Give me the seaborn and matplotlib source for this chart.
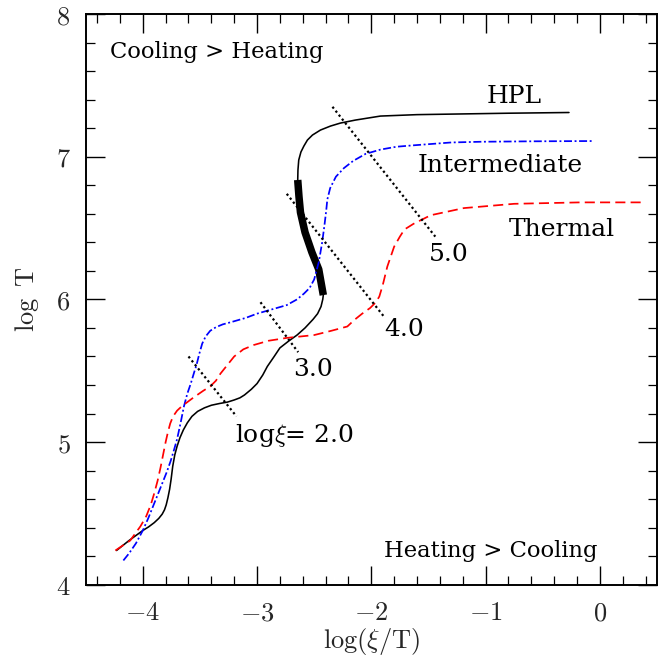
import numpy as np
import pandas as pd
import matplotlib
matplotlib.use("Agg")
import matplotlib.pyplot as plt
from matplotlib.ticker import MultipleLocator, FuncFormatter
import seaborn as sns

# ---------------- data ----------------
hpl_x = [-4.23, -4.12, -4.00, -3.95, -3.90, -3.86, -3.83, -3.81, -3.795, -3.78,
         -3.765, -3.752, -3.738, -3.72, -3.70, -3.675, -3.645, -3.61, -3.57, -3.52,
         -3.46, -3.40, -3.33, -3.26, -3.20, -3.15, -3.11, -3.05, -3.00, -2.95,
         -2.91, -2.85, -2.80, -2.72, -2.65, -2.58, -2.51, -2.47, -2.44, -2.425,
         -2.42,
         -2.44, -2.46, -2.49, -2.52, -2.55, -2.58, -2.60, -2.62, -2.633, -2.644,
         -2.642, -2.635, -2.616, -2.59, -2.559, -2.515, -2.445, -2.357, -2.27, -2.139,
         -1.92, -1.60, -1.20, -0.80, -0.27]
hpl_y = [4.24, 4.31, 4.38, 4.405, 4.435, 4.465, 4.495, 4.525, 4.56, 4.61,
         4.67, 4.74, 4.83, 4.91, 4.97, 5.03, 5.085, 5.135, 5.18, 5.215,
         5.24, 5.258, 5.27, 5.28, 5.295, 5.31, 5.33, 5.37, 5.41, 5.47,
         5.53, 5.60, 5.66, 5.71, 5.75, 5.80, 5.86, 5.90, 5.95, 6.00,
         6.03,
         6.12, 6.21, 6.27, 6.33, 6.40, 6.47, 6.54, 6.61, 6.72, 6.837,
         6.907, 6.977, 7.033, 7.075, 7.117, 7.152, 7.187, 7.215, 7.236, 7.257,
         7.285, 7.295, 7.30, 7.305, 7.31]

unstable_x = [-2.42, -2.44, -2.46, -2.49, -2.52, -2.55, -2.58, -2.60, -2.62, -2.633, -2.644]
unstable_y = [6.03, 6.12, 6.21, 6.27, 6.33, 6.40, 6.47, 6.54, 6.61, 6.72, 6.837]

inter_x = [-4.17, -4.12, -4.06, -4.00, -3.95, -3.91, -3.87, -3.83, -3.79, -3.755,
           -3.725, -3.70, -3.67, -3.64, -3.61, -3.58, -3.55, -3.53, -3.505, -3.48,
           -3.45, -3.41, -3.36, -3.30, -3.23, -3.10, -3.00, -2.87, -2.74, -2.65,
           -2.59, -2.54, -2.50, -2.46, -2.43, -2.41, -2.395, -2.385, -2.36, -2.31,
           -2.24, -2.16, -2.05, -1.92, -1.78, -1.63, -1.30, -1.04, -0.60, -0.05]
inter_y = [4.17, 4.22, 4.29, 4.38, 4.47, 4.55, 4.63, 4.71, 4.79, 4.87,
           4.95, 5.02, 5.13, 5.25, 5.34, 5.41, 5.49, 5.54, 5.62, 5.69,
           5.74, 5.78, 5.805, 5.825, 5.84, 5.87, 5.90, 5.93, 5.96, 6.00,
           6.04, 6.08, 6.14, 6.26, 6.40, 6.52, 6.62, 6.70, 6.78, 6.86,
           6.92, 6.97, 7.02, 7.05, 7.07, 7.08, 7.10, 7.105, 7.108, 7.11]

therm_x = [-4.24, -4.11, -4.02, -3.97, -3.93, -3.90, -3.87, -3.845, -3.82, -3.80,
           -3.78, -3.76, -3.735, -3.70, -3.66, -3.61, -3.56, -3.47, -3.41, -3.36,
           -3.32, -3.26, -3.20, -3.12, -3.03, -2.90, -2.74, -2.50, -2.35, -2.21,
           -2.15, -2.08, -2.01, -1.96, -1.93, -1.90, -1.86, -1.80, -1.75, -1.71,
           -1.63, -1.48, -1.19, -0.75, -0.17, 0.37]
therm_y = [4.24, 4.31, 4.41, 4.48, 4.56, 4.64, 4.73, 4.82, 4.92, 5.00,
           5.07, 5.13, 5.18, 5.22, 5.25, 5.28, 5.31, 5.36, 5.39, 5.43,
           5.48, 5.54, 5.60, 5.65, 5.68, 5.71, 5.73, 5.75, 5.78, 5.81,
           5.855, 5.90, 5.94, 5.98, 6.02, 6.10, 6.23, 6.37, 6.44, 6.49,
           6.53, 6.59, 6.64, 6.67, 6.68, 6.68]

xi_levels = ["2.0", "3.0", "4.0", "5.0"]
xi_x = [[-3.60, -3.18], [-2.97, -2.64], [-2.74, -1.89], [-2.34, -1.44]]
xi_y = [[5.60, 5.18], [5.98, 5.63], [6.74, 5.88], [7.35, 6.44]]

# ---------------- style ----------------
sns.set_style("ticks")
plt.rcParams["font.family"] = ["DejaVu Serif", "DejaVu Sans"]
plt.rcParams["mathtext.fontset"] = "cm"

fig = plt.figure(figsize=(6.64, 6.57), dpi=100)
ax = fig.add_axes([0.129, 0.110, 0.8604, 0.8686])

def df(x, y):
    return pd.DataFrame({"x": x, "y": y})

common = dict(x="x", y="y", sort=False, estimator=None, ax=ax)

# HPL
sns.lineplot(data=df(hpl_x, hpl_y), color="black", lw=1.15,
             solid_joinstyle="round", **common)
sns.lineplot(data=df(unstable_x, unstable_y), color="black", lw=5.4,
             solid_capstyle="butt", solid_joinstyle="round", **common)
# Intermediate
sns.lineplot(data=df(inter_x, inter_y), color="#0000ff", lw=1.25,
             linestyle=(0, (4.6, 1.5, 1.1, 1.5)), **common)
# Thermal
sns.lineplot(data=df(therm_x, therm_y), color="#ff0000", lw=1.25,
             linestyle=(0, (5.8, 3.0)), **common)
# log xi contours
for xs, ys in zip(xi_x, xi_y):
    sns.lineplot(data=df(xs, ys), color="black", lw=1.6,
                 linestyle=(0, (1, 1.3)), dash_capstyle="butt", **common)

ax.set_xlim(-4.5, 0.5)
ax.set_ylim(4, 8)

ax.xaxis.set_major_locator(MultipleLocator(1))
ax.xaxis.set_minor_locator(MultipleLocator(0.2))
ax.yaxis.set_major_locator(MultipleLocator(1))
ax.yaxis.set_minor_locator(MultipleLocator(0.2))
fmt = FuncFormatter(lambda v, p: r"$%g$" % v)
ax.xaxis.set_major_formatter(fmt)
ax.yaxis.set_major_formatter(fmt)

ax.tick_params(which="both", direction="in", top=True, right=True, color="black")
ax.tick_params(which="major", length=13.7, width=1.0, labelsize=19, pad=11)
ax.tick_params(which="minor", length=6.5, width=0.9)
for s in ax.spines.values():
    s.set_linewidth(1.4)
    s.set_color("black")

ax.set_xlabel(r"$\log(\xi/\mathrm{T})$", fontsize=19)
ax.set_ylabel(r"$\log\ \mathrm{T}$", fontsize=19)
ax.xaxis.set_label_coords(0.5, -0.0987)
ax.xaxis.label.set_va("center")
ax.yaxis.set_label_coords(-0.1027, 0.5)
ax.yaxis.label.set_va("center")

rkw = dict(fontsize=16.3, ha="left", va="baseline", color="black")
tkw = dict(fontsize=18, ha="left", va="baseline", color="black")
ax.text(-4.29, 7.69, "Cooling > Heating", **rkw)
ax.text(-1.893, 4.195, "Heating > Cooling", **rkw)
ax.text(-0.99, 7.38, "HPL", **tkw)
ax.text(-1.592, 6.893, "Intermediate", **tkw)
ax.text(-0.795, 6.444, "Thermal", **tkw)
ax.text(-1.496, 6.269, xi_levels[3], **tkw)
ax.text(-1.890, 5.744, xi_levels[2], **tkw)
ax.text(-2.685, 5.465, xi_levels[1], **tkw)
ax.text(-3.19, 5.003, r"log$\xi$= " + xi_levels[0], **tkw)

fig.savefig("out.png", dpi=100)
